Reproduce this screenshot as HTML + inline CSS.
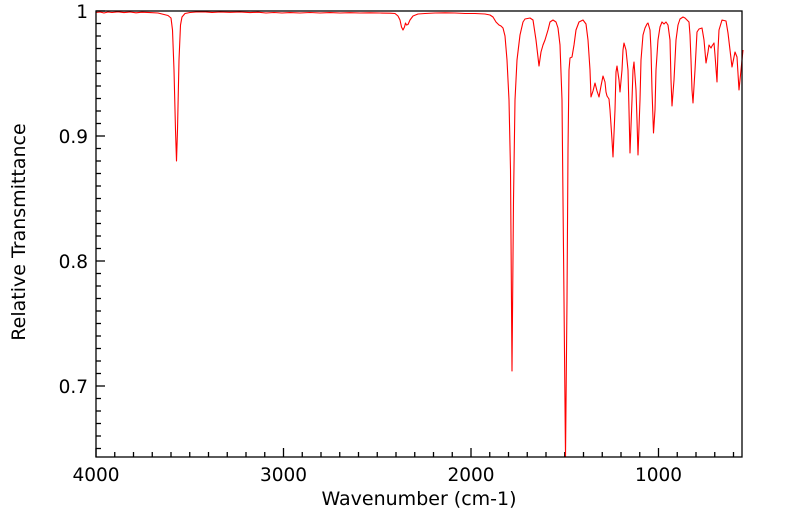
<!DOCTYPE html>
<html><head><meta charset="utf-8">
<style>
html,body{margin:0;padding:0;background:#fff;width:799px;height:516px;overflow:hidden}
svg{display:block}
text{font-family:"DejaVu Sans","Liberation Sans",sans-serif;fill:#000}
</style></head><body>
<svg id="s" width="799" height="516" viewBox="0 0 799 516" xmlns="http://www.w3.org/2000/svg">
<rect x="0" y="0" width="799" height="516" fill="#fff"/>
<g id="ticks" stroke="#000" stroke-width="1.3"></g>
<path fill="none" stroke="#ff0000" stroke-width="1.1" stroke-linejoin="round" d="
M96,12.5 L100,12 104,13 108,12 112,12.5 118,11.8 124,12.6 130,12 136,12.8 142,12.2 150,12.6 158,13 164,14.5 168,15.5 171,18 172.5,30 174,70 175.5,130 176.5,161 177.5,130 179,60 180.5,25 182,17 185,13.5 190,12.5 196,12 204,11.8 212,12.4 220,12 230,12.3 240,12 250,12.6 258,12.2 266,13 274,12.5 282,13 290,12.6 300,13 310,12.5 320,13 330,12.6 340,13 350,12.7 360,13 370,12.8 380,13 390,13.2 395,13.5 398,16 400,20 401.5,27 403,30 404.5,27 405.5,23 406.5,25 408,24.5 410,20 413,16 418,14 425,13.5 435,13 445,12.8 455,13 465,13.5 475,13.5 485,14 490,15 493,17 496,22 499,25 501,26 503,28 505,36 507,60 509,100 510.5,170 512,371 513.5,200 515,100 517,60 520,35 523,22 525,19 530,18 533,20 536,40 539,66 541,52 543,45 545,40 548,30 550,22 553,20 556,22 558,28 560,45 562,100 564,300 565.5,457 567,300 568,150 569,70 570,58 572,57 574,45 576,30 579,22 583,20 586,24 588,40 590,70 591,97 593,91 595,83 597,91 599,97 601,86 603,76 605,82 606,92 607,96 609,99 610,110 612,140 613,157 615,110 616,72 617,66 619,80 620,92 622,70 623,50 624,43 626,50 628,70 629,110 630,153 632,100 633,70 634,62 636,90 637,120 638,155 640,100 641,60 643,35 645,28 647,24 648,23 650,30 651,50 652,90 653.5,133 655,110 656,70 658,40 660,27 662,22 664,24 666,22 668,25 670,40 671,80 672,106 674,80 676,40 678,25 680,19 683,17 685,18 687,20 689,22 690,35 691,60 692,90 693,103 695,70 697,32 699,29 702,28 704,40 706,63 708,52 709,45 711,48 712,46 714,43 715,55 717,82 718,50 719,30 722,20 726,21 728,33 730,50 732,67 735,52 737,57 739,90 741,70 743,50"/>
<rect x="96" y="11" width="646" height="446" fill="none" stroke="#000" stroke-width="1.3"/>
<text x="96" y="481" font-size="18.5" text-anchor="middle">4000</text>
<text x="283.5" y="481" font-size="18.5" text-anchor="middle">3000</text>
<text x="471" y="481" font-size="18.5" text-anchor="middle">2000</text>
<text x="658.5" y="481" font-size="18.5" text-anchor="middle">1000</text>
<text x="419" y="505" font-size="19" text-anchor="middle">Wavenumber (cm-1)</text>
<text x="88" y="18" font-size="18.5" text-anchor="end">1</text>
<text x="88" y="143" font-size="18.5" text-anchor="end">0.9</text>
<text x="88" y="268" font-size="18.5" text-anchor="end">0.8</text>
<text x="88" y="393" font-size="18.5" text-anchor="end">0.7</text>
<text transform="translate(25,232) rotate(-90)" font-size="19" text-anchor="middle">Relative Transmittance</text>
</svg>
<script>
var g=document.getElementById('ticks'),h='';
for(var i=0;i<=34;i++){var x=96+i*18.75;if(x>742)break;var L=(i%10==0)?9:5;h+='<line x1="'+x+'" y1="457" x2="'+x+'" y2="'+(457-L)+'"/>';}
for(var j=0;j<=36;j++){var y=11+j*12.5;if(y>457)break;var L=(j%10==0)?9:5;h+='<line x1="96" y1="'+y+'" x2="'+(96+L)+'" y2="'+y+'"/>';}
g.innerHTML=h;
</script>
</body></html>
